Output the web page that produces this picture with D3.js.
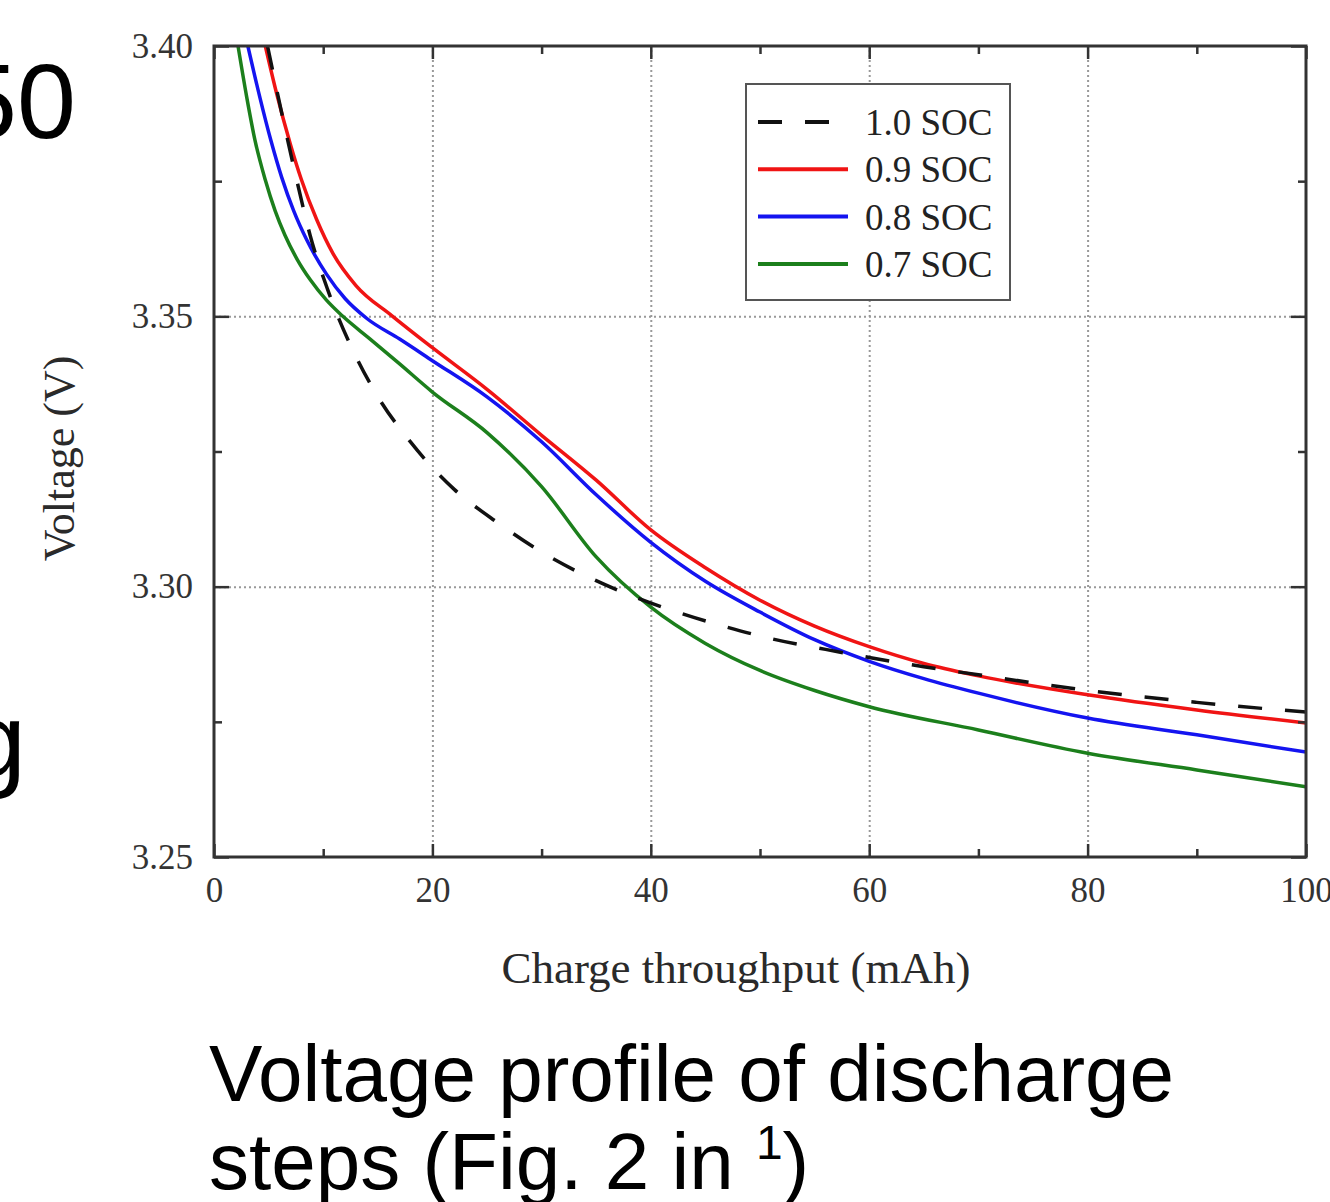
<!DOCTYPE html>
<html>
<head>
<meta charset="utf-8">
<script src="https://cdn.jsdelivr.net/npm/d3@7"></script>
<style>
  body { margin: 0; background: #fff; }
  svg { display: block; }
</style>
</head>
<body>
<div id="chart"></div>
<script>
// axis ticks
const xTicks = [0, 20, 40, 60, 80, 100];
const xMinor = [10, 30, 50, 70, 90];
const yTicks = [3.25, 3.30, 3.35, 3.40];
const yMinor = [3.275, 3.325, 3.375];

const seriesNames = ['1.0 SOC', '0.9 SOC', '0.8 SOC', '0.7 SOC'];

// charge throughput (mAh) / voltage (V)
const soc10X = [4.9, 6.7, 7.6, 8.8, 10.4, 11.4, 12.7, 15.2, 17.9, 20.1, 22, 26, 30.5, 34.7, 38.4, 42.7, 47, 51.2, 56, 60, 65, 70, 80, 90, 100];
const soc10V = [3.40, 3.3830, 3.3750, 3.3650, 3.3550, 3.3497, 3.3438, 3.3345, 3.3270, 3.3218, 3.3180, 3.3118, 3.3058, 3.3014, 3.2982, 3.2951, 3.2925, 3.2903, 3.2884, 3.2869, 3.2852, 3.2837, 3.2808, 3.2786, 3.2768];

const soc09X = [4.7, 5.7, 7.0, 8.0, 9.4, 10.9, 13.0, 16.3, 20, 25, 30, 35, 40, 45, 50, 55, 60, 65, 70, 80, 90, 100];
const soc09V = [3.40, 3.3915, 3.3818, 3.3753, 3.3679, 3.3616, 3.3557, 3.3501, 3.3442, 3.3365, 3.3280, 3.3197, 3.3105, 3.3035, 3.2975, 3.2927, 3.2889, 3.2858, 3.2835, 3.2800, 3.2772, 3.2748];

const soc08X = [3.1, 4.2, 5.2, 6.2, 7.3, 8.5, 10.3, 12, 14, 17, 20, 25, 30, 35, 40, 45, 50, 55, 60, 65, 70, 80, 90, 100];
const soc08V = [3.40, 3.3905, 3.3826, 3.3757, 3.3695, 3.3641, 3.3578, 3.3533, 3.3496, 3.3458, 3.3418, 3.3351, 3.3268, 3.3170, 3.3082, 3.3010, 3.2953, 3.2902, 3.2862, 3.2830, 3.2803, 3.2757, 3.2726, 3.2694];

const soc07X = [2.2, 3.0, 3.75, 4.7, 5.6, 6.5, 7.6, 8.8, 10.3, 11.8, 14.3, 17, 20, 25, 30, 35, 40, 45, 50, 55, 60, 70, 80, 90, 100];
const soc07V = [3.40, 3.3905, 3.3826, 3.3752, 3.3695, 3.3650, 3.3606, 3.3568, 3.3530, 3.3500, 3.3458, 3.3412, 3.3360, 3.3285, 3.3185, 3.3055, 3.2962, 3.2895, 3.2845, 3.2808, 3.2778, 3.2735, 3.2692, 3.2661, 3.2630];

const series = [
  {name: seriesNames[0], xs: soc10X, vs: soc10V, color: '#111', dash: '24,23'},
  {name: seriesNames[1], xs: soc09X, vs: soc09V, color: '#f01414', dash: null},
  {name: seriesNames[2], xs: soc08X, vs: soc08V, color: '#1414f0', dash: null},
  {name: seriesNames[3], xs: soc07X, vs: soc07V, color: '#1c7f1c', dash: null}
];

const W = 1330, H = 1202;
const plotL = 214, plotR = 1306, plotT = 46, plotB = 857;
const serif = '"Liberation Serif", "Times New Roman", serif';
const sans = '"Liberation Sans", Arial, sans-serif';

const svg = d3.select('#chart').append('svg')
  .attr('width', W)
  .attr('height', H);

svg.append('rect').attr('width', W).attr('height', H).attr('fill', '#fff');

const x = d3.scaleLinear().domain([0, 100]).range([plotL, plotR]);
const y = d3.scaleLinear().domain([3.25, 3.40]).range([plotB, plotT]);

//grid
svg.append('g')
  .attr('transform', `translate(0, ${plotB})`)
  .call(d3.axisBottom(x).tickValues([20, 40, 60, 80]).tickSize(-(plotB - plotT)).tickFormat(''))
  .call(g => g.select('.domain').remove())
  .selectAll('line')
  .attr('stroke', '#999')
  .attr('stroke-width', 2)
  .attr('stroke-dasharray', '2,3');

svg.append('g')
  .attr('transform', `translate(${plotL}, 0)`)
  .call(d3.axisLeft(y).tickValues([3.30, 3.35]).tickSize(-(plotR - plotL)).tickFormat(''))
  .call(g => g.select('.domain').remove())
  .selectAll('line')
  .attr('stroke', '#999')
  .attr('stroke-width', 2)
  .attr('stroke-dasharray', '2,3');

//curves
svg.append('clipPath').attr('id', 'plot-clip')
  .append('rect')
  .attr('x', plotL).attr('y', plotT)
  .attr('width', plotR - plotL).attr('height', plotB - plotT);

const line = d3.line()
  .x(d => x(d[0]))
  .y(d => y(d[1]))
  .curve(d3.curveMonotoneX);

svg.append('g')
  .attr('clip-path', 'url(#plot-clip)')
  .selectAll('path')
  .data(series.slice().reverse())
  .enter()
  .append('path')
  .attr('d', s => line(s.xs.map((v, i) => [v, s.vs[i]])))
  .attr('fill', 'none')
  .attr('stroke', s => s.color)
  .attr('stroke-width', 3.5)
  .attr('stroke-dasharray', s => s.dash);

//axes
function styleAxis(g) {
  g.select('.domain').remove();
  g.selectAll('line').attr('stroke', '#333').attr('stroke-width', 2.5);
  g.selectAll('text')
    .attr('fill', '#333')
    .style('font-family', serif)
    .style('font-size', '35px');
}

svg.append('g')
  .attr('transform', `translate(0, ${plotB})`)
  .call(d3.axisBottom(x).tickValues(xTicks).tickSize(-13).tickPadding(20).tickFormat(d3.format('d')))
  .call(styleAxis);
svg.append('g')
  .attr('transform', `translate(0, ${plotB})`)
  .call(d3.axisBottom(x).tickValues(xMinor).tickSize(-8).tickFormat(''))
  .call(styleAxis);
svg.append('g')
  .attr('transform', `translate(0, ${plotT})`)
  .call(d3.axisTop(x).tickValues(xTicks).tickSize(-13).tickFormat(''))
  .call(styleAxis);
svg.append('g')
  .attr('transform', `translate(0, ${plotT})`)
  .call(d3.axisTop(x).tickValues(xMinor).tickSize(-8).tickFormat(''))
  .call(styleAxis);

svg.append('g')
  .attr('transform', `translate(${plotL}, 0)`)
  .call(d3.axisLeft(y).tickValues(yTicks).tickSize(-15).tickPadding(21).tickFormat(d3.format('.2f')))
  .call(styleAxis);
svg.append('g')
  .attr('transform', `translate(${plotL}, 0)`)
  .call(d3.axisLeft(y).tickValues(yMinor).tickSize(-8).tickFormat(''))
  .call(styleAxis);
svg.append('g')
  .attr('transform', `translate(${plotR}, 0)`)
  .call(d3.axisRight(y).tickValues(yTicks).tickSize(-15).tickFormat(''))
  .call(styleAxis);
svg.append('g')
  .attr('transform', `translate(${plotR}, 0)`)
  .call(d3.axisRight(y).tickValues(yMinor).tickSize(-8).tickFormat(''))
  .call(styleAxis);

//frame
svg.append('rect')
  .attr('x', plotL).attr('y', plotT)
  .attr('width', plotR - plotL).attr('height', plotB - plotT)
  .attr('fill', 'none')
  .attr('stroke', '#333')
  .attr('stroke-width', 3);

//axis titles
svg.append('text')
  .attr('x', 736)
  .attr('y', 983)
  .attr('text-anchor', 'middle')
  .attr('fill', '#2a2a2a')
  .style('font-family', serif)
  .style('font-size', '45px')
  .text('Charge throughput (mAh)');

svg.append('text')
  .attr('transform', `translate(74, ${(plotT + plotB) / 2 + 7}) rotate(-90)`)
  .attr('text-anchor', 'middle')
  .attr('fill', '#2a2a2a')
  .style('font-family', serif)
  .style('font-size', '44px')
  .text('Voltage (V)');

//legend
const legend = svg.append('g').attr('transform', 'translate(746, 84)');
legend.append('rect')
  .attr('width', 264).attr('height', 216)
  .attr('fill', '#fff')
  .attr('stroke', '#555')
  .attr('stroke-width', 2);

const items = legend.selectAll('g.item')
  .data(series)
  .enter()
  .append('g')
  .attr('class', 'item')
  .attr('transform', (d, i) => `translate(0, ${38 + i * 47.3})`);

items.append('line')
  .attr('x1', 12).attr('x2', 102)
  .attr('stroke', d => d.color)
  .attr('stroke-width', 4)
  .attr('stroke-dasharray', d => d.dash);

items.append('text')
  .attr('x', 119)
  .attr('dy', '0.35em')
  .attr('fill', '#222')
  .style('font-family', serif)
  .style('font-size', '37px')
  .text(d => d.name);

//slide text around the figure
svg.append('text')
  .attr('x', 76).attr('y', 138)
  .attr('text-anchor', 'end')
  .style('font-family', sans)
  .style('font-size', '106px')
  .text('50');

svg.append('text')
  .attr('x', 26).attr('y', 777)
  .attr('text-anchor', 'end')
  .style('font-family', sans)
  .style('font-size', '106px')
  .text('g');

svg.append('text')
  .attr('x', 209).attr('y', 1101)
  .style('font-family', sans)
  .style('font-size', '80px')
  .text('Voltage profile of discharge');

const cap2 = svg.append('text')
  .attr('x', 209).attr('y', 1189)
  .style('font-family', sans)
  .style('font-size', '80px');
cap2.append('tspan').text('steps (Fig. 2 in ');
cap2.append('tspan').attr('dy', -30).style('font-size', '48px').text('1');
cap2.append('tspan').attr('dy', 30).text(')');
</script>
</body>
</html>
